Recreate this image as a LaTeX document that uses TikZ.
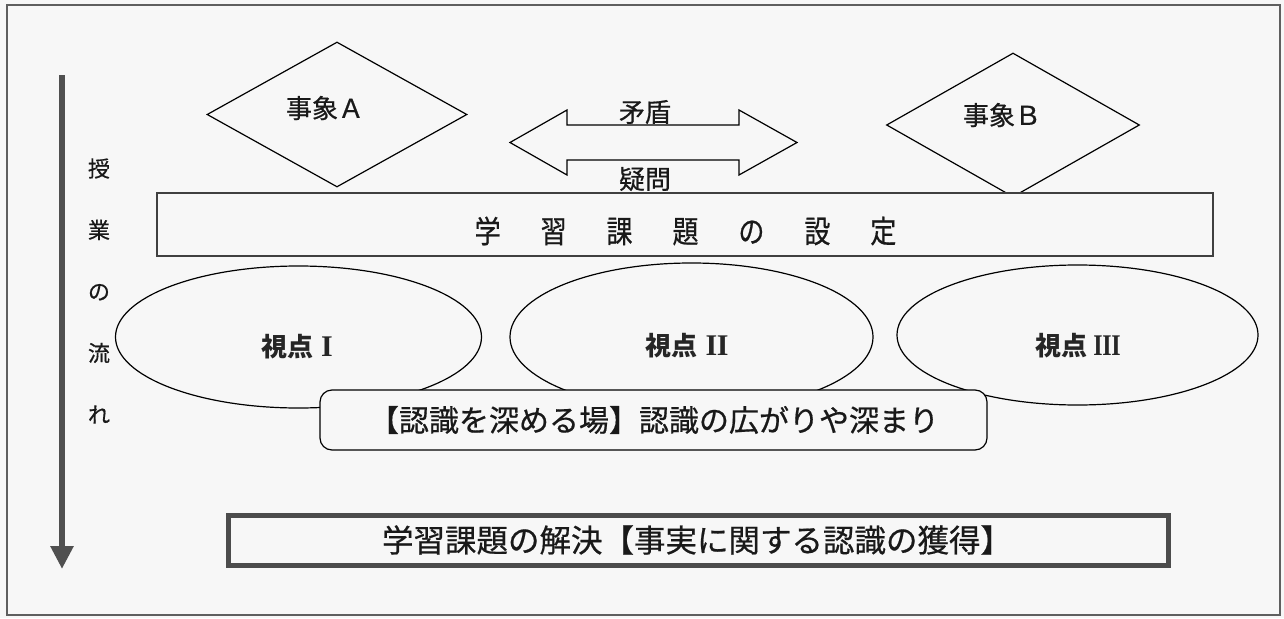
\documentclass[tikz,border=0pt]{standalone}
\usepackage{fontspec}
\newfontfamily\jp[FakeBold=0.6]{Noto Sans CJK JP}
\newfontfamily\jpb{Noto Sans CJK JP}
\newfontfamily\rnfont{Liberation Serif}
\usetikzlibrary{shapes.geometric,arrows.meta,calc}
\definecolor{bg}{RGB}{247,247,247}
\definecolor{frm}{RGB}{95,95,95}
\definecolor{arr}{RGB}{80,80,80}
\newcommand{\gsp}{\hspace{47.5pt}}
\newcommand{\rnum}[1]{{\rnfont\bfseries\fontsize{30}{30}\selectfont #1}}
\begin{document}
\begin{tikzpicture}[x=1pt,y=-1pt,
  txt/.style={font=\jp\fontsize{26}{28}\selectfont, inner sep=0pt, text=black!90},
  vtxt/.style={font=\jpb\bfseries\fontsize{26}{28}\selectfont, inner sep=0pt, text=black!85},
  bigtxt/.style={font=\jp\fontsize{#1}{34}\selectfont, inner sep=0pt, text=black!90},
  ell/.style={ellipse, draw=black, line width=1.2pt, fill=bg, inner sep=0pt},
  plainbox/.style={draw=black!75, line width=1.5pt, fill=bg},
  roundbox/.style={draw=black, line width=1.2pt, fill=bg, rounded corners=12pt},
  thickbox/.style={draw=black!70, line width=5pt, fill=bg},
  flowarrow/.style={draw=arr, line width=6pt, -{Triangle[width=22pt,length=23pt]}}]
% background and frame
\fill[bg] (0,0) rectangle (1284,618);
\draw[frm, line width=1.5pt] (7,5) rectangle (1280,615);
% flow arrow
\coordinate (fs) at (62,75);
\coordinate (fe) at (62,569);
\draw[flowarrow] (fs) -- (fe);
\node[font=\jp\fontsize{22}{61.5}\selectfont, align=center, inner sep=0pt, text=black!90] (flow) at (99,291) {授\\業\\の\\流\\れ};
% diamonds
\node[diamond, draw=black, line width=1.2pt, fill=bg, inner sep=0pt, minimum width=260pt, minimum height=145pt] (dA) at (337,114.5) {};
\node[txt] (tA) at (325,108) {事象Ａ};
\node[diamond, draw=black, line width=1.2pt, fill=bg, inner sep=0pt, minimum width=253pt, minimum height=144pt] (dB) at (1013,125) {};
\node[txt] (tB) at (1002,115) {事象Ｂ};
% double arrow
\coordinate (da) at (653.5,142.5);
\draw[black, line width=1.2pt, fill=bg]
  ($(da)+(-143.5,0)$) -- ($(da)+(-86.5,-32.5)$) -- ($(da)+(-86.5,-17.5)$) -- ($(da)+(85.5,-17.5)$)
  -- ($(da)+(85.5,-32.5)$) -- ($(da)+(143.5,0)$) -- ($(da)+(85.5,32.5)$) -- ($(da)+(85.5,17.5)$)
  -- ($(da)+(-86.5,17.5)$) -- ($(da)+(-86.5,32.5)$) -- cycle;
\node[txt] (tM) at (645,112) {矛盾};
% setting box
\node[plainbox, minimum width=1056pt, minimum height=63pt, inner sep=0pt] (set) at (685,224.5) {};
\node[txt] (tG) at (645,179) {疑問};
\node[font=\jp\fontsize{31}{34}\selectfont, inner sep=0pt, text=black!90] (tSet) at (685.5,231) {\scalebox{0.84}[1]{学\gsp 習\gsp 課\gsp 題\gsp の\gsp 設\gsp 定}};
% viewpoints
\node[ell, minimum width=366pt, minimum height=142pt] (e1) at (298.5,337) {};
\node[ell, minimum width=363pt, minimum height=148pt] (e2) at (691.5,337) {};
\node[ell, minimum width=361pt, minimum height=140pt] (e3) at (1077.5,335) {};
\node[vtxt] (v1) at (297,347) {視点\hspace{8pt}\rnum{I}};
\node[vtxt] (v2) at (687,346) {視点\hspace{8pt}\rnum{I\kern-0.5pt I}};
\node[vtxt] (v3) at (1078,346) {視点\hspace{6pt}\scalebox{0.8}[1]{\rnum{I\kern-0.5pt I\kern-0.5pt I}}};
% deepening box
\node[roundbox, minimum width=667pt, minimum height=60pt, inner sep=0pt] (deep) at (653.5,420) {};
\node[bigtxt=30] (tDeep) at (654,420) {【認識を深める場】認識の広がりや深まり};
% solution box
\node[thickbox, minimum width=940pt, minimum height=50pt, inner sep=0pt] (sol) at (698,540) {};
\node[bigtxt=31.5] (tSol) at (697,540) {学習課題の解決【事実に関する認識の獲得】};
\end{tikzpicture}
\end{document}
